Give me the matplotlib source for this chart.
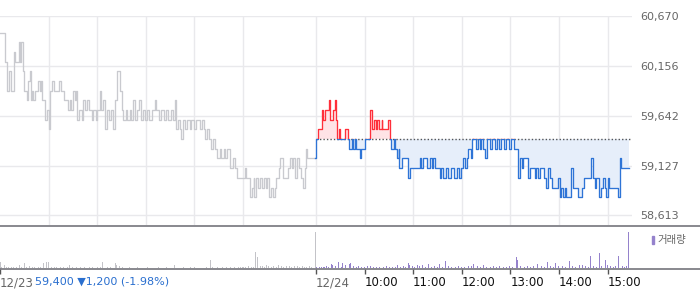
import matplotlib
matplotlib.use("Agg")
import matplotlib.pyplot as plt
from matplotlib.patches import Rectangle
import numpy as np

# ---------------- data ----------------
# minutes since 09:00 for each session, prices in KRW
day1_min = [0,3,6,7,9,11,14,17,19,21,23,25,26,28,30,33,35,37,38,39,41,43,46,47,49,51,52,54,56,58,
            60,62,64,67,71,73,75,77,79,82,84,86,88,90,92,94,95,97,100,101,103,105,108,110,113,115,118,120,123,125,
            127,130,132,135,137,140,142,145,147,148,151,152,155,157,160,162,164,167,169,172,174,177,179,182,184,188,191,193,196,199,
            202,205,208,211,214,216,217,220,222,224,226,229,231,234,236,239,242,244,247,249,252,253,256,258,261,263,266,268,271,273,
            276,278,280,284,288,290,293,300,302,304,307,309,311,313,314,316,318,321,323,326,328,330,332,334,337,339,341,344,346,349,
            355,356,358,360,362,364,367,369,372,374,376,378,379,389]
day1_price = [60500,60500,60200,60200,59900,60100,59900,60300,60200,60200,60400,60200,60400,60100,59900,59800,60000,60100,59800,59900,59800,59900,59900,60000,59900,60000,59800,59800,59600,59700,
              59500,59900,60000,59900,59900,60000,59900,59900,59800,59800,59700,59800,59700,59900,59800,59900,59600,59700,59700,59600,59800,59700,59800,59700,59600,59700,59600,59700,59900,59700,
              59800,59500,59700,59600,59700,59500,59800,60100,60100,59900,59700,59600,59700,59600,59700,59600,59800,59600,59700,59800,59600,59700,59600,59700,59600,59700,59800,59700,59600,59700,
              59600,59700,59600,59700,59600,59800,59500,59600,59500,59400,59600,59500,59600,59500,59600,59500,59600,59600,59500,59600,59500,59400,59500,59400,59300,59400,59300,59200,59300,59200,
              59300,59200,59300,59100,59200,59100,59000,59000,59100,59000,59000,58800,58900,59000,58800,59000,58900,59000,58900,59000,58900,59000,58800,58900,58800,58900,59000,59100,59200,59000,
              59000,59100,59200,59100,59200,59000,59200,59100,59000,58900,59100,59300,59200,59200]

day2_min = [0,2,5,7,9,11,13,16,18,21,23,25,26,28,30,36,38,40,41,44,46,48,50,54,56,59,61,65,67,69,
            72,74,76,78,81,82,88,89,91,93,96,98,100,102,103,106,112,114,116,126,128,130,132,137,141,143,145,147,151,153,
            155,157,161,163,167,170,174,177,179,182,184,186,188,191,193,196,198,200,202,204,206,209,211,215,218,221,224,226,229,232,
            235,239,241,244,247,249,250,252,254,256,260,262,264,268,270,272,274,277,281,284,287,289,292,297,299,301,303,305,307,309,
            313,315,317,322,324,328,329,331,334,339,340,342,344,346,348,350,352,355,357,358,360,362,371,373,375,377,387]
day2_price = [59400,59500,59500,59700,59600,59700,59700,59800,59600,59700,59800,59600,59400,59500,59400,59500,59500,59400,59300,59400,59300,59400,59300,59200,59300,59300,59400,59400,59700,59500,
              59600,59500,59600,59500,59600,59500,59500,59600,59400,59300,59400,59300,59200,59300,59100,59200,59200,59000,59100,59100,59200,59100,59200,59100,59200,59100,59200,59100,59100,59000,
              59100,59000,59100,59000,59100,59000,59100,59000,59100,59200,59100,59200,59300,59200,59400,59400,59300,59400,59300,59400,59300,59200,59400,59300,59400,59300,59400,59300,59400,59300,
              59400,59300,59400,59300,59300,59100,59000,59200,59100,59200,59200,59000,59100,59100,59000,59100,59000,59100,59000,58900,59100,59000,58900,58900,59000,58800,58900,58800,58900,58800,
              58800,59100,58900,58900,58800,58800,58900,59000,59000,59000,59200,59000,58900,59000,59000,58800,58900,59000,58900,58800,59000,58900,58900,58800,59200,59100,59100]

open_price = 59400

# volume (thousand shares, read roughly)
day1_vol_min = [0,2,5,8,11,14,17,20,24,27,30,33,37,40,43,47,50,54,57,60,64,67,70,75,79,83,86,90,95,99,
                104,110,114,120,124,127,133,137,142,144,148,151,160,170,182,196,205,215,226,235,240,255,260,262,268,275,280,285,290,294,
                297,300,303,307,310,313,316,318,321,324,326,329,332,335,338,341,344,347,350,354,357,360,364,367,370,373,376,379,382,385,389]
day1_vol = [6,1.5,3,1.5,1.5,1.5,1.5,1.5,3,1.5,5,1.5,2,1.5,1.5,1.5,1.5,5,6,6,1.5,1.5,1.5,1.5,1.5,1.5,3,1.5,1.5,1.5,
            1.5,1.5,1.5,1.5,1.5,6,1.5,1.5,5,3,2,1.5,1.5,1.5,1.5,1.5,1.5,3,1.5,1.5,1.5,1.5,8,1.5,1.5,1.5,1.5,1.5,1.5,1.5,
            1.5,1.5,1.5,2.5,1.5,1.5,16,11,2,2,1.5,3,2,1.5,2,1.5,3,2,1.5,2,2,1.5,2,2,1.5,2,1.5,1.5,2,1.5,36]

day2_vol_min = [1,4,7,10,13,16,19,21,24,28,31,33,37,41,43,46,50,53,56,60,64,67,71,75,79,83,87,91,95,98,
                101,104,108,111,114,115,119,122,125,128,132,135,139,143,147,150,152,156,160,164,168,172,176,180,184,188,192,195,199,203,
                207,211,215,219,223,227,231,235,239,243,248,249,253,257,261,265,269,274,278,282,286,290,293,296,300,304,308,313,317,321,
                325,329,333,336,339,343,347,350,353,357,360,364,367,370,373,374,378,381,384,386]
day2_vol = [1.5,1.5,1.5,1.5,2,1.5,4,3,2,6,1.5,5,3,4,5,2,1.5,2,1.5,1.5,2,2,1.5,1.5,1.5,1.5,2,1.5,1.5,1.5,
            3,1.5,2,1.5,5,3,2,1.5,3,2,3,1.5,4,1.5,2,1.5,4,1.5,7,2,1.5,1.5,2,1.5,1.5,2,2,4,2,1.5,
            3,1.5,1.5,2,1.5,2,1.5,1.5,2,1.5,11,8,2,1.5,2,1.5,2,4,2,1.5,6,2,1.5,5,2,2,1.5,7,2,1.5,
            3,3,2,1.5,12,2,1.5,15,2,8,3,2,1.5,2,4,12,2,1.5,2,36]

y_ticks = [58613, 59127, 59642, 60156, 60670]
x_tick_min = [0, 390, 450, 510, 570, 630, 690, 750]
x_tick_lab = ["12/23", "12/24", "10:00", "11:00", "12:00", "13:00", "14:00", "15:00"]
caption = "59,400 \u25bc1,200 (-1.98%)"
legend_label = "거래량"

SESSION = 390  # minutes per session

# ---------------- styling ----------------
W, H = 700, 289
fig = plt.figure(figsize=(W / 100, H / 100), dpi=100)
plt.rcParams['font.family'] = ['DejaVu Sans', 'Noto Sans CJK KR']

def fx(px):
    return px / W

def fy(py):
    return 1 - py / H

RIGHT_PX = 632
ax = fig.add_axes([0, fy(225), fx(RIGHT_PX), (225 - 16) / H])
axv = fig.add_axes([0, fy(268), fx(RIGHT_PX), (268 - 229) / H])

XMAX = RIGHT_PX / 0.81
for a in (ax, axv):
    a.set_xlim(0, XMAX)
    for s in a.spines.values():
        s.set_visible(False)

ymin = 58613 - (225 - 215.3) * 10.32
ax.set_ylim(ymin, 60672)

# grid
for t in [60, 120, 180, 240, 300, 390, 450, 510, 570, 630, 690, 750]:
    ax.axvline(t, color="#e9e9ec", lw=1.0, zorder=0)
for v in y_ticks:
    ax.axhline(v, color="#e9e9ec", lw=1.0, zorder=0)

ax.set_xticks([])
ax.yaxis.tick_right()
ax.set_yticks(y_ticks)
ax.set_yticklabels([f"{v:,}" for v in y_ticks], fontsize=8, color="#666666")
ax.tick_params(axis="y", length=0, pad=6)

# day 1 line (gray)
x1 = np.array(day1_min, dtype=float)
y1 = np.array(day1_price, dtype=float)
ax.plot(x1, y1, drawstyle="steps-post", color="#c9cacf", lw=0.95, zorder=3)

# day 2 line (red above open, blue below), including connection from day 1 close
x2 = np.concatenate([[x1[-1]], SESSION + np.array(day2_min, dtype=float)])
y2 = np.concatenate([[y1[-1]], np.array(day2_price, dtype=float)])

x_start = SESSION
above = Rectangle((x_start - 2, open_price), 1000, 5000, transform=ax.transData)
below = Rectangle((x_start - 2, open_price - 5000), 1000, 5000, transform=ax.transData)

fr = ax.fill_between(x2[1:], y2[1:], open_price, step="post", color="#ffe3e6", lw=0, zorder=1)
fr.set_clip_path(above)
fb = ax.fill_between(x2[1:], y2[1:], open_price, step="post", color="#e6eefa", lw=0, zorder=1)
fb.set_clip_path(below)

ax.plot([x_start, 630 / 0.81], [open_price, open_price], color="#555555", lw=1.0,
        linestyle=(0, (1, 1.5)), zorder=2)

lr, = ax.plot(x2, y2, drawstyle="steps-post", color="#ff2f3a", lw=0.95, zorder=4)
lr.set_clip_path(above)
lb, = ax.plot(x2, y2, drawstyle="steps-post", color="#2e74d6", lw=0.95, zorder=4)
lb.set_clip_path(below)

# volume
axv.set_ylim(0, 39)
axv.bar(day1_vol_min, day1_vol, width=1.25, color="#c3c3c8", lw=0, antialiased=False)
axv.bar(SESSION + np.array(day2_vol_min), day2_vol, width=1.25, color="#9582cc", lw=0,
        antialiased=False)
axv.set_yticks([])
axv.set_xticks(x_tick_min)
axv.set_xticklabels(x_tick_lab, fontsize=8.5, ha="left")
axv.tick_params(axis="x", length=4, width=1, color="#555555", pad=2)
for i, lab in enumerate(axv.get_xticklabels()):
    lab.set_color("#666666" if i < 2 else "#111111")

# separator lines spanning full width
fig.add_artist(plt.Line2D([0, 1], [fy(225.5), fy(225.5)], color="#7f7f86", lw=1.3))
fig.add_artist(plt.Line2D([0, 1], [fy(268.5), fy(268.5)], color="#7f7f86", lw=1.3))

# caption next to first label
fig.text(fx(35), fy(282), caption, fontsize=8, color="#2a6fcf", va="center", ha="left")

# legend
fig.add_artist(Rectangle((fx(652), fy(244)), 2 / W, 8 / H, transform=fig.transFigure,
                         color="#9582cc"))
fig.text(fx(657), fy(240), legend_label, fontsize=7.5, color="#666666", va="center",
         ha="left", family=['Noto Sans CJK KR', 'DejaVu Sans'])

fig.savefig("out.png", dpi=100)
